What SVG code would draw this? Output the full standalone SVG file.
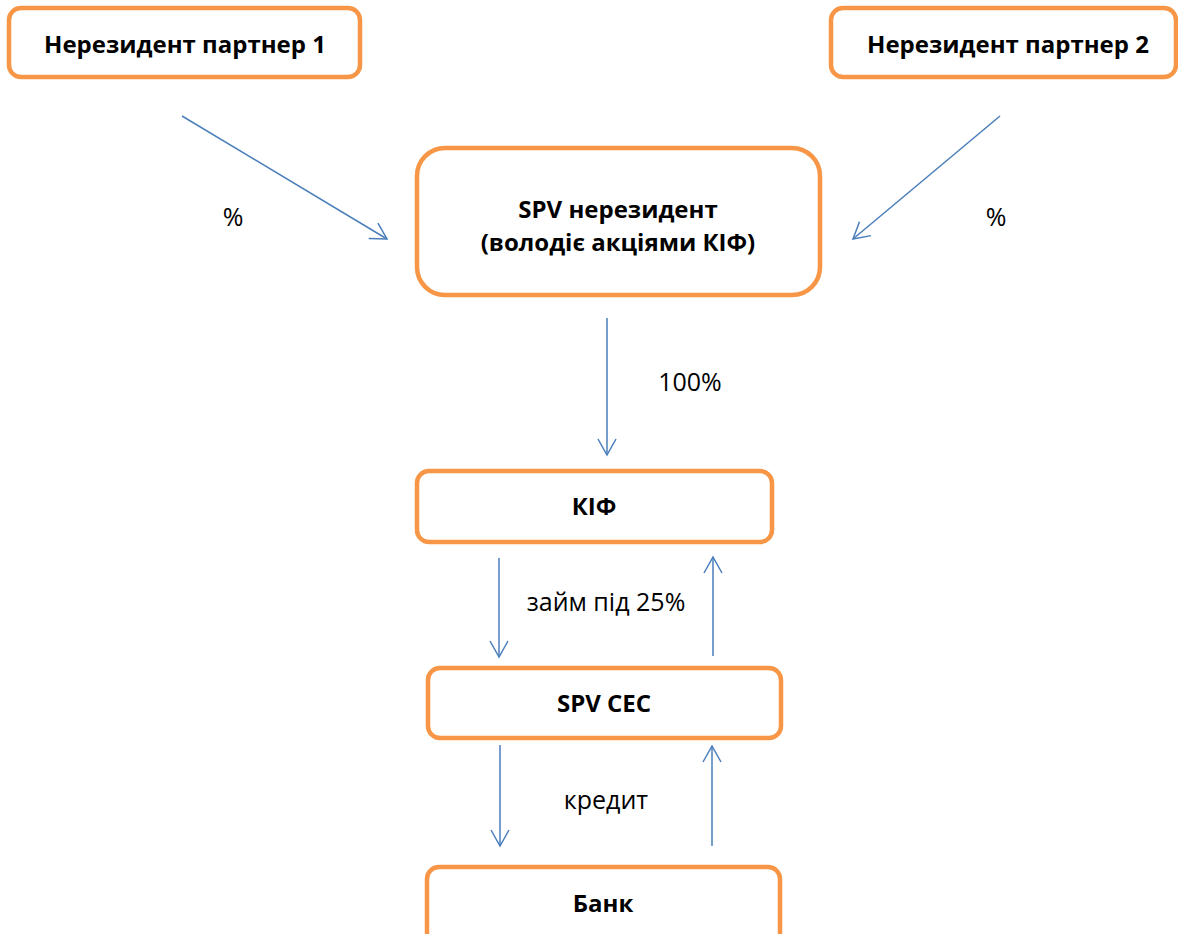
<svg xmlns="http://www.w3.org/2000/svg" width="1178" height="934" viewBox="0 0 1178 934">
<defs>
<style>
.box{fill:#fff;stroke:#F79646;stroke-width:4.5}
.lbl{font-family:"Open Sans","Liberation Sans",sans-serif;font-weight:bold;font-size:24px;fill:#000;text-anchor:middle}
.txt{font-family:"Open Sans","Liberation Sans",sans-serif;font-size:25px;fill:#000;text-anchor:middle}
.con{stroke:#4A7EBB;stroke-width:1.5;fill:none}
</style>
<marker id="arr" viewBox="0 0 20 20" refX="18" refY="10" markerWidth="20" markerHeight="20" markerUnits="userSpaceOnUse" orient="auto">
<path d="M2,1 L18,10 L2,19" fill="none" stroke="#4A7EBB" stroke-width="1.5"/>
</marker>
</defs>
<rect width="1178" height="934" fill="#fff"/>
<g id="partner1"><rect class="box" x="9" y="8" width="351" height="69" rx="12"/><text class="lbl" x="185" y="53">Нерезидент партнер 1</text></g>
<g id="partner2"><rect class="box" x="831" y="8" width="345" height="69" rx="12"/><text class="lbl" x="1008" y="53">Нерезидент партнер 2</text></g>
<g id="spv"><rect class="box" x="417" y="148" width="403" height="147" rx="28"/><text class="lbl" x="618" y="218">SPV нерезидент</text><text class="lbl" x="618" y="251">(володіє акціями КІФ)</text></g>
<g id="kif"><rect class="box" x="417" y="471" width="355" height="71" rx="12"/><text class="lbl" x="594" y="515">КІФ</text></g>
<g id="spvcec"><rect class="box" x="428" y="668" width="353" height="70" rx="12"/><text class="lbl" x="604" y="712">SPV CEC</text></g>
<g id="bank"><rect class="box" x="427" y="867" width="353" height="80" rx="12"/><text class="lbl" x="603" y="912">Банк</text></g>
<g id="connectors">
<line class="con" x1="182" y1="116" x2="387" y2="239" marker-end="url(#arr)"/>
<line class="con" x1="1000" y1="116" x2="853" y2="239" marker-end="url(#arr)"/>
<line class="con" x1="607" y1="318" x2="607" y2="455" marker-end="url(#arr)"/>
<line class="con" x1="499" y1="558" x2="499" y2="657" marker-end="url(#arr)"/>
<line class="con" x1="713" y1="656" x2="713" y2="557" marker-end="url(#arr)"/>
<line class="con" x1="500" y1="745" x2="500" y2="846" marker-end="url(#arr)"/>
<line class="con" x1="712" y1="846" x2="712" y2="746" marker-end="url(#arr)"/>
</g>
<g id="labels">
<text class="txt" x="233" y="226">%</text>
<text class="txt" x="996" y="226">%</text>
<text class="txt" x="690" y="391">100%</text>
<text class="txt" x="606" y="611">займ під 25%</text>
<text class="txt" x="606" y="809">кредит</text>
</g>
</svg>
